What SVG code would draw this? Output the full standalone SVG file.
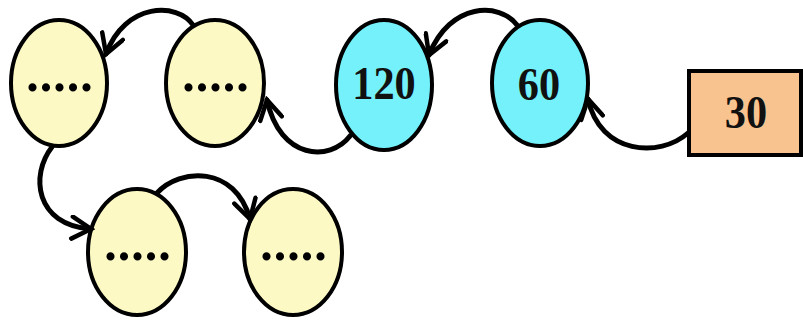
<svg xmlns="http://www.w3.org/2000/svg" width="803" height="321" viewBox="0 0 803 321">
<style>
.y{fill:#FCF9C4;stroke:#000;stroke-width:4}
.c{fill:#74F1FA;stroke:#000;stroke-width:4}
.r{fill:#F9C38F;stroke:#000;stroke-width:4}
.dots{font-family:"Liberation Serif",serif;font-weight:bold;font-size:50px;letter-spacing:1px;text-anchor:middle;fill:#000}
.num{font-family:"Liberation Serif",serif;font-weight:bold;font-size:46px;text-anchor:middle;fill:#111}
.e{fill:none;stroke:#000;stroke-width:5;stroke-linecap:round;marker-end:url(#ah)}
</style>
<defs>
<marker id="ah" markerUnits="userSpaceOnUse" viewBox="0 0 26 26" markerWidth="26" markerHeight="26" refX="22" refY="13" orient="auto">
<path d="M3,2 L22,13 L3,24" fill="none" stroke="#000" stroke-width="4.5" stroke-linejoin="miter" stroke-linecap="round"/>
</marker>
</defs>
<g id="n1"><ellipse class="y" cx="59" cy="83" rx="48" ry="63"/><text class="dots" x="60" y="91">.....</text></g>
<g id="n2"><ellipse class="y" cx="215" cy="83" rx="49" ry="63"/><text class="dots" x="216" y="91">.....</text></g>
<g id="n120"><ellipse class="c" cx="384" cy="85" rx="48" ry="65"/><text class="num" x="384" y="99" transform="translate(384 0) scale(0.92 1) translate(-384 0)">120</text></g>
<g id="n60"><ellipse class="c" cx="540" cy="83" rx="48" ry="63"/><text class="num" x="539" y="100" transform="translate(539 0) scale(0.92 1) translate(-539 0)">60</text></g>
<g id="n30"><rect class="r" x="689" y="71" width="112" height="84"/><text class="num" x="746" y="128" transform="translate(746 0) scale(0.92 1) translate(-746 0)">30</text></g>
<g id="n3"><ellipse class="y" cx="137" cy="252" rx="49" ry="63"/><text class="dots" x="138" y="260">.....</text></g>
<g id="n4"><ellipse class="y" cx="293" cy="252" rx="49" ry="63"/><text class="dots" x="294" y="260">.....</text></g>
<g id="connectors">
<path class="e" d="M193,25 C178,2 125,2 106,54"/>
<path class="e" d="M350,136 C330,162 280,160 267,100"/>
<path class="e" d="M517,25 C500,2 450,2 429,55"/>
<path class="e" d="M688,133 C660,158 600,155 588,99"/>
<path class="e" d="M52,147 C30,175 35,225 91,229"/>
<path class="e" d="M157,193 C180,168 235,165 250,219"/>
</g>
</svg>
